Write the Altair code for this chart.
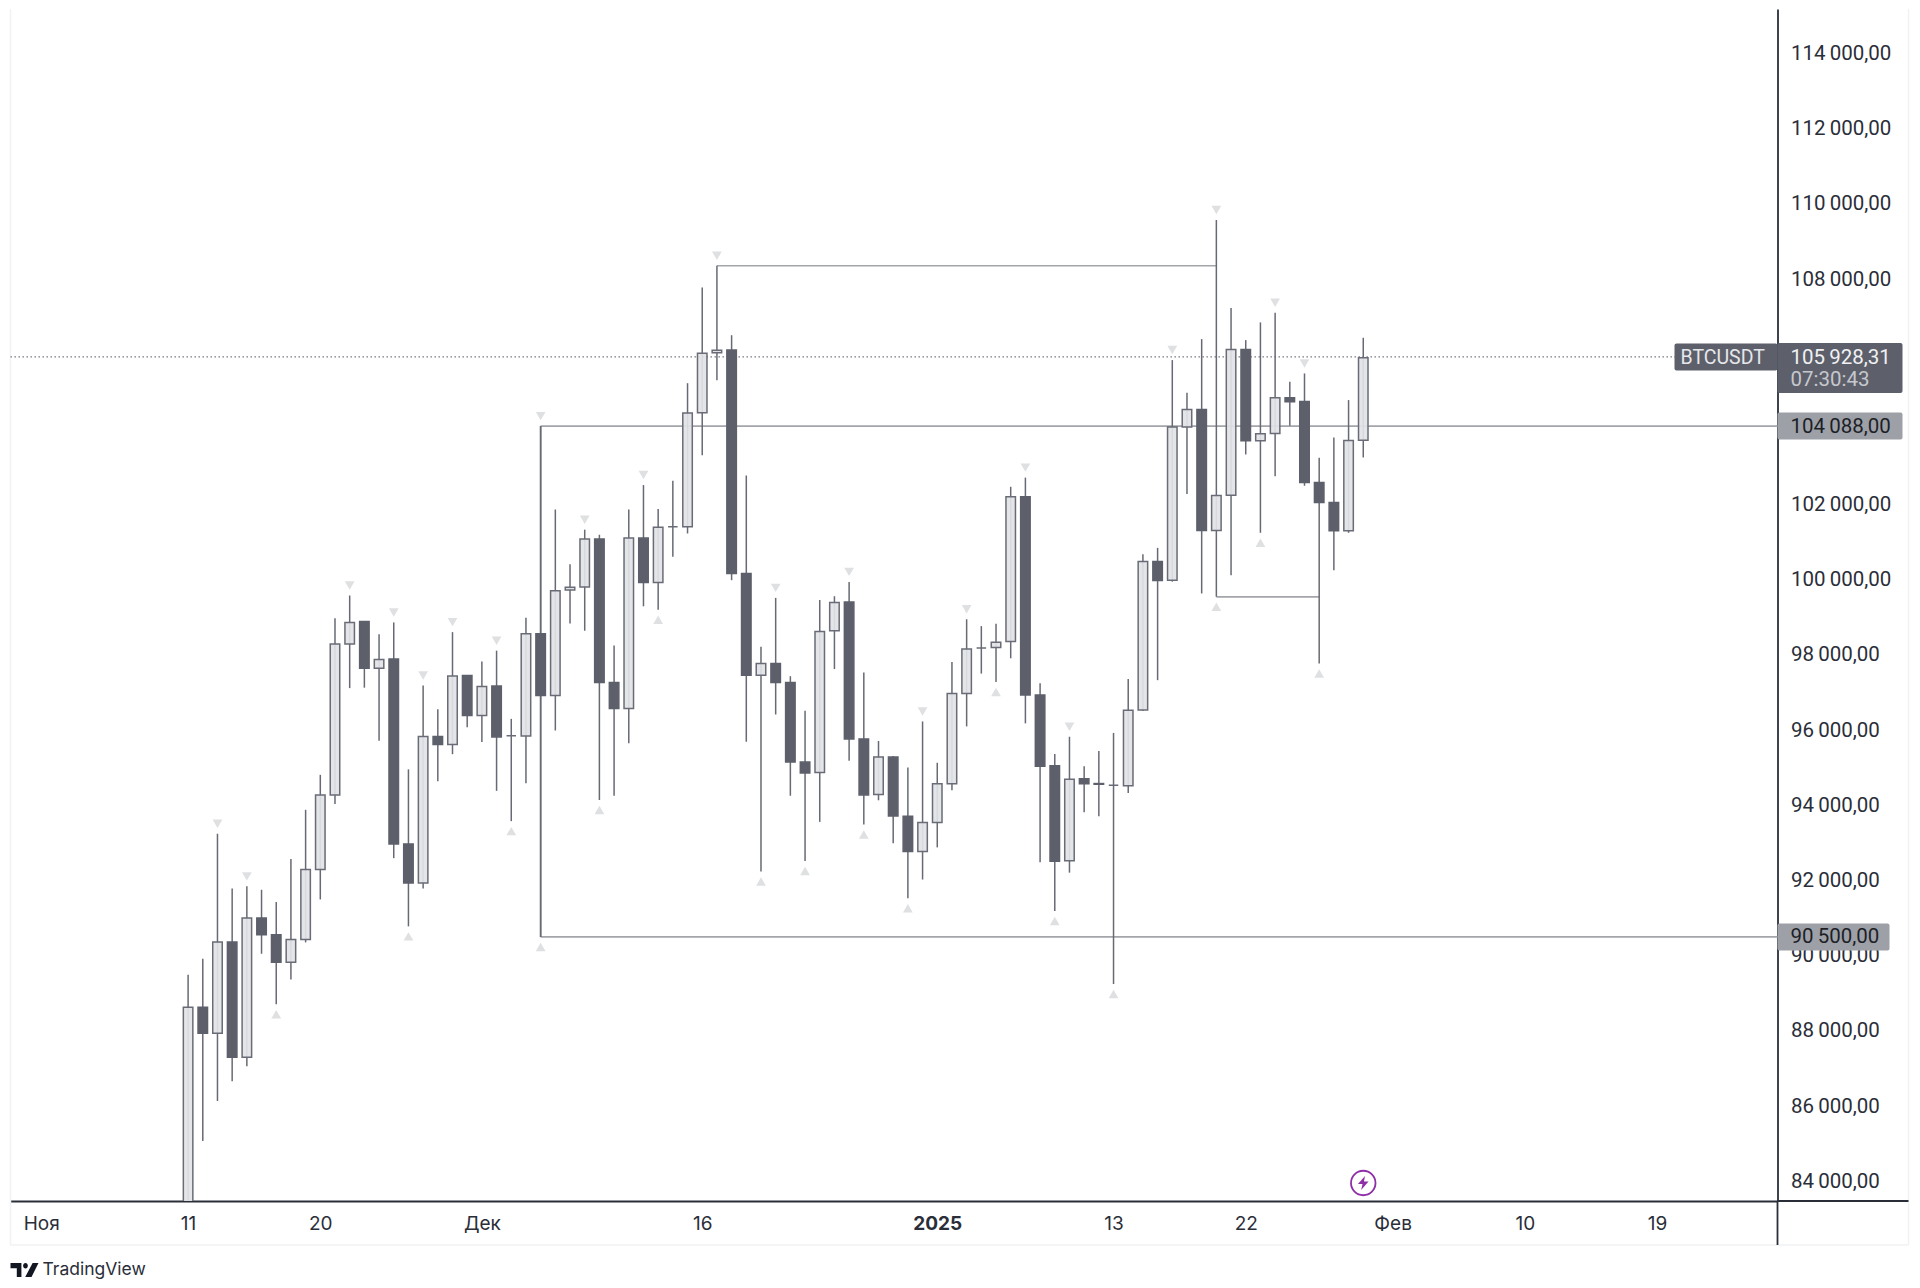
import altair as alt
import pandas as pd

# candles, one per day from 11 Nov 2024 (index 0)
opens = [80400,88631,87936,90366,87298,91005,90557,89829,90434,92292,94275,98295,98888,97645,97891,92975,91934,95831,95618,97455,96391,97175,95853,95842,98563,96921,99731,99810,101087,97268,96574,101109,99930,101411,101411,104446,106036,106114,100168,97458,97772,97268,95151,94872,98645,99407,95767,94287,95285,93707,92770,93544,94573,96975,98187,98197,98360,102209,96935,95051,92526,94705,94580,94532,94522,96538,100488,99990,104061,104531,101312,102252,106128,103697,103893,104842,104744,102589,102057,101303,103715]
highs = [89493,89919,93244,91789,91845,91755,91430,92573,93882,94812,98978,99582,98888,98552,98866,94958,97186,96559,98608,97455,97824,98115,96301,98989,104088,101870,100415,101333,101198,98253,101870,102520,101881,102632,105230,107772,108353,106506,102777,98220,99519,97436,96518,99463,99563,99944,97537,95713,95316,95010,96232,95133,97810,98951,98768,98829,102474,102718,97250,95367,95825,95041,95448,95927,97362,100682,100850,105844,104975,106403,109569,107227,106376,106846,107103,105267,105489,103245,103786,104780,106438]
lows = [80200,85070,86134,86660,87063,90053,88709,89370,90355,91497,94039,97119,97130,95719,92595,90781,91789,94644,95361,96077,95685,94386,93580,94588,90500,95992,98836,98645,94144,94256,95655,99295,99205,100616,101232,103315,105308,99989,95689,92240,96417,94256,92520,93561,97626,95185,93490,94135,92994,91528,92027,92882,94400,96100,97505,97281,97912,96181,92485,91192,92210,93819,93707,89247,94328,96507,97330,99950,102279,99636,99547,100123,103334,101250,102757,104097,102500,97773,100256,101250,103254]
closes = [88631,87936,90366,87298,91005,90557,89829,90434,92292,94275,98295,98866,97645,97880,92975,91934,95831,95618,97444,96391,97164,95820,95853,98563,96921,99709,99799,101087,97268,96574,101109,99930,101400,101411,104435,106025,106103,100168,97458,97772,97268,95151,94861,98623,99395,95767,94278,95285,93717,92770,93544,94573,96975,98157,98187,98340,102209,96935,95041,92516,94695,94573,94562,94532,96527,100488,99979,104061,104531,101312,102243,106128,103697,103884,104842,104735,102589,102057,101303,103706,105906]
pivot_high_days = [2,4,11,14,16,18,21,24,27,31,36,40,45,50,53,57,60,67,70,74,76]
pivot_low_days = [6,15,22,24,28,32,39,42,46,49,55,59,63,70,73,77]

# level lines
level_price = [104088, 90500, 108353, 99547]
level_from = [24, 24, 36, 70]
level_to = [108.2, 108.2, 70, 77]
pivot_x = [24]
pivot_top = [104088]
pivot_bottom = [90500]
last_price = 105928.31

# axes
price_ticks = list(range(84000, 116000, 2000))
day_ticks = [-10, 0, 9, 20, 35, 51, 63, 72, 82, 91, 100]
day_labels = ["Ноя", "11", "20", "Дек", "16", "2025", "13", "22", "Фев", "10", "19"]

FONT = "Inter"
NUM_FONT = "Roboto"
DARK = "#5d606b"
LINE = "#a3a5aa"
TICK = "#2a2e39"
FS = 19
NS = 20.5

idx = list(range(len(opens)))
candles = pd.DataFrame({"day": idx, "open": opens, "high": highs, "low": lows, "close": closes})
candles["top"] = candles[["open", "close"]].max(axis=1)
candles["bottom"] = candles[["open", "close"]].min(axis=1)
candles["up"] = candles["close"] >= candles["open"]

label_map = "{" + ",".join(f"'{d}':'{l}'" for d, l in zip(day_ticks, day_labels)) + "}"
x_scale = alt.Scale(domain=[-12.09, 108.2], nice=False, zero=False, padding=0)
y_scale = alt.Scale(domain=[83476, 115183], nice=False, zero=False)

x_axis = alt.Axis(
    values=day_ticks, title=None, grid=False, ticks=False,
    domainColor=TICK, domainWidth=2.2,
    labelExpr=label_map + "[''+datum.value]",
    labelFont=FONT, labelFontSize=FS, labelColor=TICK, labelPadding=13,
    labelFontWeight={"condition": {"test": "datum.value == 51", "value": 700}, "value": 400},
    labelFlush=False, labelOverlap=False, labelBound=False)
y_axis = alt.Axis(
    orient="right", values=price_ticks, title=None, grid=False, ticks=False,
    domainColor=TICK, domainWidth=1.8,
    labelExpr="replace(replace(format(datum.value, ',.2f'), ',', '\u2009'), '.', ',')",
    labelFont=NUM_FONT, labelFontSize=NS, labelColor=TICK, labelPadding=13,
    labelOverlap=False, labelBound=False)


def X(f):
    return alt.X(f, scale=x_scale, axis=x_axis)


def Y(f):
    return alt.Y(f, scale=y_scale, axis=y_axis)


levels = pd.DataFrame({"v": level_price, "a": level_from, "b": level_to})
h_lines = alt.Chart(levels).mark_rule(color=LINE, strokeWidth=1.7).encode(x=X("a:Q"), x2="b:Q", y=Y("v:Q"))

pivot_df = pd.DataFrame({"day": pivot_x, "v": pivot_top, "v2": pivot_bottom})
v_line = alt.Chart(pivot_df).mark_rule(color="#85878d", strokeWidth=1.7).encode(x=X("day:Q"), y=Y("v:Q"), y2="v2:Q")

last_df = pd.DataFrame({"v": [last_price], "a": [-12.09], "b": [108.2]})
dotted = alt.Chart(last_df).mark_rule(color="#6d7078", strokeWidth=1.1, strokeDash=[1.4, 2.6]).encode(x=X("a:Q"), x2="b:Q", y=Y("v:Q"))

wicks = alt.Chart(candles).transform_calculate(v="datum.high").mark_rule(color="#676a74", strokeWidth=1.5, clip=True).encode(
    x=X("day:Q"), y=Y("v:Q"), y2="low:Q")

bodies_up = alt.Chart(candles).transform_filter("datum.up").transform_calculate(v="datum.top").mark_bar(
    size=9.5, fill="#e2e3e6", fillOpacity=0.92, stroke="#696c76", strokeWidth=1.5, clip=True).encode(
    x=X("day:Q"), y=Y("v:Q"), y2="bottom:Q")
bodies_down = alt.Chart(candles).transform_filter("!datum.up").transform_calculate(v="datum.top").mark_bar(
    size=9.5, fill=DARK, stroke=DARK, strokeWidth=1.5, clip=True).encode(
    x=X("day:Q"), y=Y("v:Q"), y2="bottom:Q")

ph = candles[candles.day.isin(pivot_high_days)]
pl = candles[candles.day.isin(pivot_low_days)]
marks_hi = alt.Chart(ph).transform_calculate(v="datum.high").mark_point(
    shape="triangle-down", filled=True, size=95, color="#dfe0e2", opacity=1, yOffset=-10).encode(x=X("day:Q"), y=Y("v:Q"))
marks_lo = alt.Chart(pl).transform_calculate(v="datum.low").mark_point(
    shape="triangle-up", filled=True, size=95, color="#dfe0e2", opacity=1, yOffset=10).encode(x=X("day:Q"), y=Y("v:Q"))

# price tags
PLOT_W, PLOT_H = 1767, 1192
tag_a = pd.DataFrame({"v": [104088], "txt": ["104\u2009088,00"]})
tag_b = pd.DataFrame({"v": [90500], "txt": ["90\u2009500,00"]})
tag_rect_a = alt.Chart(tag_a).mark_rect(fill="#9ea0a8", height=27, cornerRadius=2).encode(
    x=alt.value(PLOT_W), x2=alt.value(PLOT_W + 125), y=Y("v:Q"))
tag_rect_b = alt.Chart(tag_b).mark_rect(fill="#9ea0a8", height=27, cornerRadius=2).encode(
    x=alt.value(PLOT_W), x2=alt.value(PLOT_W + 112), y=Y("v:Q"))
tag_txt_a = alt.Chart(tag_a).mark_text(font=NUM_FONT, fontSize=NS, color="#1c1f26", align="left", yOffset=0.5).encode(
    x=alt.value(PLOT_W + 13), y=Y("v:Q"), text="txt:N")
tag_txt_b = alt.Chart(tag_b).mark_text(font=NUM_FONT, fontSize=NS, color="#1c1f26", align="left", yOffset=0.5).encode(
    x=alt.value(PLOT_W + 13), y=Y("v:Q"), text="txt:N")

sym_df = pd.DataFrame({"v": [last_price], "sym": ["BTCUSDT"], "price": ["105\u2009928,31"], "timer": ["07:30:43"]})
sym_rect = alt.Chart(sym_df).mark_rect(fill=DARK, height=27, cornerRadius=2).encode(
    x=alt.value(PLOT_W - 103), x2=alt.value(PLOT_W), y=Y("v:Q"))
price_rect = alt.Chart(sym_df).mark_rect(fill=DARK, height=50, cornerRadius=2, yOffset=11).encode(
    x=alt.value(PLOT_W), x2=alt.value(PLOT_W + 125), y=Y("v:Q"))
sym_txt = alt.Chart(sym_df).mark_text(font=NUM_FONT, fontSize=19.5, color="#e6e7ea", align="left", yOffset=1).encode(
    x=alt.value(PLOT_W - 97), y=Y("v:Q"), text="sym:N")
price_txt = alt.Chart(sym_df).mark_text(font=NUM_FONT, fontSize=NS, color="#f0f1f3", align="left", yOffset=1).encode(
    x=alt.value(PLOT_W + 13), y=Y("v:Q"), text="price:N")
timer_txt = alt.Chart(sym_df).mark_text(font=NUM_FONT, fontSize=NS, color="#c6c8cd", align="left", yOffset=23).encode(
    x=alt.value(PLOT_W + 13), y=Y("v:Q"), text="timer:N")

# frame
frame_color = "#f1f2f5"
one = pd.DataFrame({"k": [0]})
frame_left = alt.Chart(one).mark_rule(color=frame_color, strokeWidth=1.5).encode(x=alt.value(0), y=alt.value(0), y2=alt.value(PLOT_H + 44))
frame_right = alt.Chart(one).mark_rule(color=frame_color, strokeWidth=1.5).encode(x=alt.value(1898), y=alt.value(0), y2=alt.value(PLOT_H + 44))
frame_bottom = alt.Chart(one).mark_rule(color=frame_color, strokeWidth=1.5).encode(x=alt.value(0), x2=alt.value(1898), y=alt.value(PLOT_H + 44))
scale_extra = alt.Chart(one).mark_rule(color=TICK, strokeWidth=1.8).encode(x=alt.value(PLOT_W), y=alt.value(PLOT_H), y2=alt.value(PLOT_H + 44))
axis_extra = alt.Chart(one).mark_rule(color=TICK, strokeWidth=2.2).encode(x=alt.value(PLOT_W), x2=alt.value(1898), y=alt.value(PLOT_H))

# lightning badge on the last day
badge_df = pd.DataFrame({"day": [80]})
badge_circle = alt.Chart(badge_df).mark_point(shape="circle", size=600, stroke="#8e2fa8", strokeWidth=1.8, fill="white", filled=False, opacity=1).encode(
    x=X("day:Q"), y=alt.value(PLOT_H - 18))
BOLT = "M0.25,-1 L-0.75,0.15 L-0.1,0.15 L-0.3,1 L0.75,-0.2 L0.1,-0.2 Z"
badge_bolt = alt.Chart(badge_df).mark_point(shape=BOLT, size=200, fill="#8e2fa8", filled=True, opacity=1).encode(
    x=X("day:Q"), y=alt.value(PLOT_H - 18))

# TradingView mark
LOGO = ("M-1,-0.5 L-0.22,-0.5 L-0.22,0.5 L-0.55,0.5 L-0.55,-0.12 L-1,-0.12 Z "
        "M-0.1,-0.3 a0.17,0.2 0 1,0 0.34,0 a0.17,0.2 0 1,0 -0.34,0 Z "
        "M0.58,-0.5 L1,-0.5 L0.5,0.5 L0.05,0.5 Z")
brand_df = pd.DataFrame({"t": ["TradingView"]})
logo = alt.Chart(brand_df).mark_point(shape=LOGO, size=784, fill="#131722", filled=True, opacity=1).encode(
    x=alt.value(14), y=alt.value(1261))
brand = alt.Chart(brand_df).mark_text(font=FONT, fontSize=17.5, color="#2a2e39", align="left").encode(
    x=alt.value(32), y=alt.value(1261), text="t:N")

chart = alt.layer(
    frame_left, frame_right, frame_bottom, dotted, h_lines, v_line, wicks, bodies_up, bodies_down,
    marks_hi, marks_lo, badge_circle, badge_bolt, tag_rect_a, tag_rect_b, tag_txt_a, tag_txt_b,
    sym_rect, price_rect, sym_txt, price_txt, timer_txt,
    scale_extra, axis_extra, logo, brand
).properties(
    width=PLOT_W, height=PLOT_H, padding={"left": 1.5, "top": 0, "right": 0, "bottom": 0}, background="white"
).configure_view(strokeWidth=0).resolve_scale(x="shared", y="shared")

chart.save("out.html", embed_options={"renderer": "svg", "actions": False})
